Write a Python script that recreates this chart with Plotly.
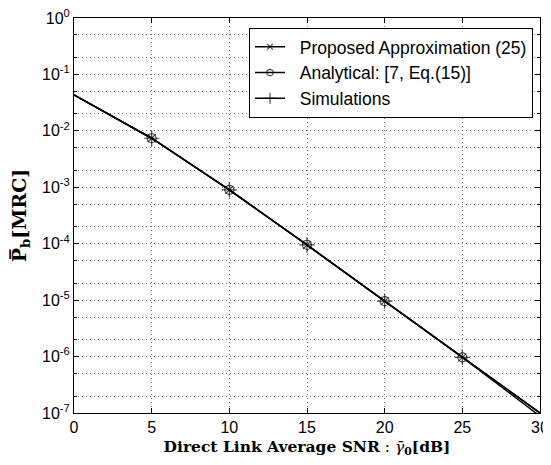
import plotly.graph_objects as go

snr_db = [0, 5, 10, 15, 20, 25, 30]
approx = [4.35e-2, 7.4e-3, 9.0e-4, 9.5e-5, 9.6e-6, 9.7e-7, 8.8e-8]
analytical = [4.35e-2, 7.4e-3, 9.0e-4, 9.5e-5, 9.6e-6, 9.7e-7, 1.0e-7]
simulations = [4.35e-2, 7.4e-3, 9.0e-4, 9.5e-5, 9.6e-6, 9.7e-7, 1.0e-7]
marker_shown = [0, 1, 1, 1, 1, 1, 0]
legend_names = ["Proposed Approximation (25)", "Analytical: [7, Eq.(15)]", "Simulations"]

y_tickvals = [1e-7, 1e-6, 1e-5, 1e-4, 1e-3, 1e-2, 1e-1, 1e0]
y_ticktext = ["10<sup>-7</sup>", "10<sup>-6</sup>", "10<sup>-5</sup>", "10<sup>-4</sup>",
              "10<sup>-3</sup>", "10<sup>-2</sup>", "10<sup>-1</sup>", "10<sup>0</sup>"]
x_tickvals = [0, 5, 10, 15, 20, 25, 30]

fig = go.Figure()

def add(name, y, symbol, size):
    fig.add_trace(go.Scatter(
        x=snr_db, y=y, name="\u00a0\u00a0" + name, mode="lines+markers",
        line=dict(color="black", width=1.5),
        marker=dict(symbol=symbol, size=[size * m for m in marker_shown],
                    color="black", line=dict(color="black", width=1.2)),
    ))

add(legend_names[0], approx, "x-thin-open", 8)
add(legend_names[1], analytical, "circle-open", 9)
add(legend_names[2], simulations, "cross-thin-open", 11)

axis_common = dict(
    showline=True, linecolor="black", linewidth=1, mirror="ticks",
    ticks="inside", ticklen=5, tickcolor="black", automargin=False,
    ticklabeloverflow="allow",
    showgrid=True, gridcolor="#777777", gridwidth=1, griddash="1px,3px",
    zeroline=False, tickfont=dict(family="Liberation Sans, Arial", size=16, color="black"),
)

fig.update_xaxes(range=[0, 30], tickvals=x_tickvals, **axis_common,
                 title=dict(text="<b>Direct Link Average SNR</b> : <i>γ̄</i><sub><b>0</b></sub><b>[dB]</b>",
                            font=dict(family="DejaVu Serif", size=15.5, color="black"), standoff=5))
fig.update_yaxes(type="log", range=[-7, 0], tickvals=y_tickvals, ticktext=y_ticktext, **axis_common,
                 minor=dict(ticks="inside", ticklen=3, tickcolor="black", showgrid=True,
                            gridcolor="#777777", gridwidth=1, griddash="1px,3px"),
                 title=dict(text="<b>P̅</b><sub><b>b</b></sub><b>[MRC]</b>",
                            font=dict(family="DejaVu Serif", size=19, color="black"), standoff=10))

# page body has an 8px default margin; size/margins compensate so the plot area lands
# at x 74..540, y 18..413 of the 551x465 window
fig.update_layout(
    width=543, height=457,
    margin=dict(l=66, r=11, t=10, b=52),
    plot_bgcolor="white", paper_bgcolor="white",
    font=dict(family="Liberation Sans, Arial", size=16, color="black"),
    legend=dict(x=0.985, y=0.975, xanchor="right", yanchor="top",
                bgcolor="white", bordercolor="black", borderwidth=1,
                font=dict(family="Liberation Sans, Arial", size=17.5, color="black"),
                tracegroupgap=0, itemsizing="trace"),
    showlegend=True,
)

fig.write_html("out.html")
